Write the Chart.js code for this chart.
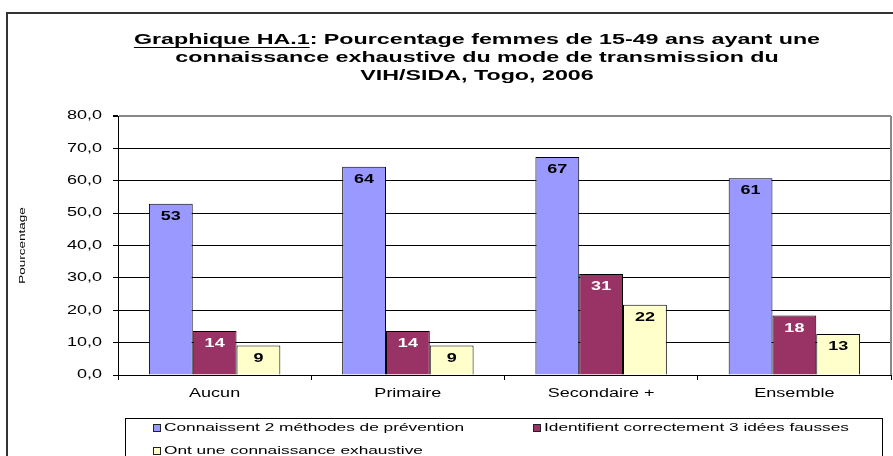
<!DOCTYPE html>
<html>
<head>
<meta charset="utf-8">
<script src="https://cdn.jsdelivr.net/npm/chart.js@4.4.1/dist/chart.umd.min.js"></script>
<style>
  body { margin: 0; background: #fff; }
  canvas { display: block; }
</style>
</head>
<body>
<canvas id="chart" width="893" height="456"></canvas>
<script>
// data
const categories = ['Aucun', 'Primaire', 'Secondaire +', 'Ensemble'];
const methodes = [52.9, 64.3, 67.3, 60.8];       // Connaissent 2 methodes
const ideesFausses = [13.6, 13.6, 31.2, 18.4];   // Identifient 3 idees fausses
const exhaustive = [9.1, 9.1, 21.7, 12.7];       // connaissance exhaustive
const seriesLabels = [
  'Connaissent 2 méthodes de prévention',
  'Identifient correctement 3 idées fausses',
  'Ont une connaissance exhaustive'
];
const titleBold = 'Graphique HA.1';
const titleLines = [
  ': Pourcentage femmes de 15-49 ans ayant une',
  'connaissance exhaustive du mode de transmission du',
  'VIH/SIDA, Togo, 2006'
];

const FONT = '"Liberation Sans", Arial, sans-serif';
const SX = 1.5;   // the original text is drawn wide, stretch it horizontally

const canvas = document.getElementById('chart');
const ctx = canvas.getContext('2d');

// stretch every text around its anchor point
const baseFill = CanvasRenderingContext2D.prototype.fillText;
ctx.fillText = function (text, x, y, maxWidth) {
  this.save();
  this.translate(x, y);
  this.scale(SX, 1);
  if (maxWidth !== undefined) baseFill.call(this, text, 0, 0, maxWidth / SX);
  else baseFill.call(this, text, 0, 0);
  this.restore();
};

const framePlugin = {
  id: 'frame',
  beforeDraw(chart) {
    const c = chart.ctx;
    c.save();
    c.fillStyle = '#fff';
    c.fillRect(0, 0, chart.width, chart.height);
    c.strokeStyle = '#333';
    c.lineWidth = 2;
    c.strokeRect(7, 13, chart.width, chart.height);
    c.restore();
  },
  afterDraw(chart) {
    const c = chart.ctx;
    const a = chart.chartArea;
    c.save();
    // right border of plot area
    c.strokeStyle = '#888';
    c.lineWidth = 2;
    c.beginPath();
    c.moveTo(a.right, a.top);
    c.lineTo(a.right, a.bottom);
    c.stroke();

    // title
    c.fillStyle = '#000';
    c.textBaseline = 'middle';
    c.font = 'bold 15.5px ' + FONT;
    const w1 = c.measureText(titleBold).width * SX;
    const wAll = c.measureText(titleBold + titleLines[0]).width * SX;
    const cx = 477;
    let x0 = cx - wAll / 2;
    c.textAlign = 'left';
    c.fillText(titleBold, x0, 40);
    c.fillText(titleLines[0], x0 + w1, 40);
    c.strokeStyle = '#000';
    c.lineWidth = 1;
    c.beginPath();
    c.moveTo(x0, 47.5);
    c.lineTo(x0 + w1, 47.5);
    c.stroke();
    c.textAlign = 'center';
    c.fillText(titleLines[1], cx, 58);
    c.fillText(titleLines[2], cx, 76);

    // legend box
    c.strokeStyle = '#000';
    c.lineWidth = 1;
    c.strokeRect(125.5, 418.5, 757, 60);
    const items = [
      { x: 153, y: 428 },
      { x: 533, y: 428 },
      { x: 153, y: 451 }
    ];
    c.font = '11.5px ' + FONT;
    c.textAlign = 'left';
    chart.data.datasets.forEach((ds, i) => {
      const it = items[i];
      c.fillStyle = ds.backgroundColor;
      c.fillRect(it.x, it.y - 4, 8, 8);
      c.strokeStyle = '#222';
      c.strokeRect(it.x + 0.5, it.y - 3.5, 7, 7);
      c.fillStyle = '#000';
      c.fillText(ds.label, it.x + 11, it.y);
    });

    // value labels inside bars
    c.font = 'bold 12px ' + FONT;
    c.textAlign = 'center';
    c.textBaseline = 'middle';
    chart.data.datasets.forEach((ds, i) => {
      const meta = chart.getDatasetMeta(i);
      meta.data.forEach((bar, j) => {
        c.fillStyle = ds.labelColor;
        c.fillText(String(Math.round(ds.data[j])), bar.x, bar.y + 13);
      });
    });
    c.restore();
  }
};

const myChart = new Chart(ctx, {
  type: 'bar',
  data: {
    labels: categories,
    datasets: [
      { label: seriesLabels[0], data: methodes, backgroundColor: '#9999FF', labelColor: '#000' },
      { label: seriesLabels[1], data: ideesFausses, backgroundColor: '#993366', labelColor: '#fff' },
      { label: seriesLabels[2], data: exhaustive, backgroundColor: '#FFFFCC', labelColor: '#000' }
    ]
  },
  options: {
    responsive: false,
    animation: false,
    devicePixelRatio: 1,
    layout: { padding: { top: 116, right: 2, left: 0, bottom: 0 } },
    datasets: {
      bar: {
        borderColor: '#000',
        borderWidth: 1,
        categoryPercentage: 0.68,
        barPercentage: 1
      }
    },
    plugins: {
      legend: { display: false },
      title: { display: false },
      tooltip: { enabled: false }
    },
    scales: {
      x: {
        afterFit: s => { s.height = 81; },
        grid: { drawOnChartArea: false, drawTicks: true, tickLength: 5, tickColor: '#000' },
        border: { color: '#000', width: 1 },
        ticks: {
          color: '#000',
          font: { family: FONT, size: 12 },
          padding: 6,
          maxRotation: 0,
          autoSkip: false
        }
      },
      y: {
        min: 0,
        max: 80,
        afterFit: s => { s.width = 118; },
        grid: {
          color: c => (c.tick && c.tick.value === 80 ? '#888' : '#000'),
          lineWidth: c => (c.tick && c.tick.value === 80 ? 2 : 1),
          tickLength: 5,
          tickColor: '#000'
        },
        border: { color: '#000', width: 1 },
        ticks: {
          stepSize: 10,
          color: '#000',
          font: { family: FONT, size: 12 },
          padding: 11,
          callback: v => v.toFixed(1).replace('.', ',')
        },
        title: {
          display: true,
          text: 'Pourcentage',
          color: '#000',
          font: { family: FONT, size: 9 },
          padding: { top: 17, bottom: 0 }
        }
      }
    }
  },
  plugins: [framePlugin]
});
</script>
</body>
</html>
